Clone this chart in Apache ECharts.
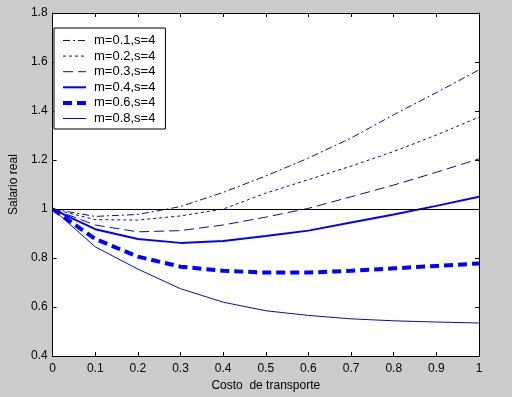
<!DOCTYPE html>
<html>
<head>
<meta charset="utf-8">
<script src="https://cdn.jsdelivr.net/npm/echarts@6/dist/echarts.min.js"></script>
<style>
  html, body { margin: 0; padding: 0; background: #cccccc; }
  #chart { width: 512px; height: 397px; }
</style>
</head>
<body>
<div id="chart"></div>
<script>
// Costo de transporte (x) and the salario real curves
const costo = [0, 0.1, 0.2, 0.3, 0.4, 0.5, 0.6, 0.7, 0.8, 0.9, 1];
const m01 = [1, 0.970, 0.978, 1.010, 1.068, 1.135, 1.208, 1.290, 1.385, 1.475, 1.568];
const m02 = [1, 0.957, 0.955, 0.972, 1.000, 1.065, 1.120, 1.175, 1.235, 1.302, 1.375];
const m03 = [1, 0.935, 0.907, 0.912, 0.935, 0.967, 1.003, 1.050, 1.098, 1.150, 1.205];
const m04 = [1, 0.918, 0.878, 0.862, 0.870, 0.890, 0.912, 0.945, 0.978, 1.013, 1.050];
const m06 = [1, 0.878, 0.806, 0.765, 0.748, 0.741, 0.741, 0.748, 0.758, 0.768, 0.778];
const m08 = [1, 0.846, 0.755, 0.675, 0.620, 0.585, 0.566, 0.552, 0.544, 0.539, 0.535];
const seriesNames = ["m=0.1,s=4", "m=0.2,s=4", "m=0.3,s=4", "m=0.4,s=4", "m=0.6,s=4", "m=0.8,s=4"];
const refValue = 1;

const xTicks = ["0", "0.1", "0.2", "0.3", "0.4", "0.5", "0.6", "0.7", "0.8", "0.9", "1"];
const yTicks = ["0.4", "0.6", "0.8", "1", "1.2", "1.4", "1.6", "1.8"];

const chart = echarts.init(document.getElementById("chart"));

const pair = (ys) => costo.map((x, i) => [x, ys[i]]);
const thin = "#0c0ca6";
const thick = "#0000ff";

const styles = [
  { width: 1, type: [7, 3, 2, 3], color: thin },
  { width: 1, type: [3, 3], color: thin },
  { width: 1, type: [10, 5], color: thin },
  { width: 2, type: "solid", color: thick },
  { width: 4, type: [9, 5], color: thick },
  { width: 1, type: "solid", color: thin },
];

const fontFam = "Liberation Sans, Arial, sans-serif";

const baseAxis = {
  axisLine: { show: true, onZero: false, lineStyle: { color: "#000", width: 1 } },
  axisTick: { show: true, inside: true, length: 4, lineStyle: { color: "#000" } },
  splitLine: { show: false },
};

const option = {
  backgroundColor: "#cccccc",
  animation: false,
  grid: { left: 41, right: 33, top: 13, bottom: 40, show: true, backgroundColor: "#ffffff", borderWidth: 0 },
  legend: {
    orient: "vertical",
    left: 54,
    top: 28,
    padding: [6, 10, 4, 7],
    itemWidth: 23,
    itemHeight: 14,
    itemGap: 2.6,
    backgroundColor: "#ffffff",
    borderColor: "#000",
    borderWidth: 1,
    borderRadius: 0,
    itemStyle: { color: "rgba(0,0,0,0)", borderWidth: 0 },
    textStyle: { color: "#000", fontSize: 13, fontFamily: fontFam, padding: [0, 0, 0, 3] },
    data: seriesNames.map((n, i) => ({
      name: n,
      itemStyle: { color: "rgba(0,0,0,0)", borderWidth: 0 },
      lineStyle: { width: styles[i].width, type: styles[i].type, color: styles[i].color },
    })),
  },
  xAxis: [
    {
      ...baseAxis,
      type: "value",
      min: 0,
      max: 1,
      interval: 0.1,
      name: "Costo  de transporte",
      nameLocation: "middle",
      nameGap: 22,
      nameTextStyle: { color: "#000", fontSize: 12, fontFamily: fontFam },
      axisLabel: {
        color: "#000",
        fontSize: 12,
        fontFamily: fontFam,
        margin: 7,
        formatter: (v) => xTicks[Math.round(v * 10)],
      },
    },
    {
      ...baseAxis,
      type: "value",
      position: "top",
      min: 0,
      max: 1,
      interval: 0.1,
      axisLabel: { show: false },
    },
  ],
  yAxis: [
    {
      ...baseAxis,
      type: "value",
      min: 0.4,
      max: 1.8,
      interval: 0.2,
      name: "Salario real",
      nameLocation: "middle",
      nameGap: 31,
      nameTextStyle: { color: "#000", fontSize: 12, fontFamily: fontFam },
      axisLabel: {
        color: "#000",
        fontSize: 12,
        fontFamily: fontFam,
        margin: 5,
        formatter: (v) => yTicks[Math.round((v - 0.4) / 0.2)],
      },
    },
    {
      ...baseAxis,
      type: "value",
      position: "right",
      min: 0.4,
      max: 1.8,
      interval: 0.2,
      axisLabel: { show: false },
    },
  ],
  series: [m01, m02, m03, m04, m06, m08].map((ys, i) => ({
    name: seriesNames[i],
    type: "line",
    data: pair(ys),
    showSymbol: false,
    symbol: "none",
    smooth: false,
    lineStyle: styles[i],
    itemStyle: { color: styles[i].color },
    z: 3,
    markLine: i === 0 ? {
      silent: true,
      symbol: "none",
      label: { show: false },
      lineStyle: { color: "#000", width: 1, type: "solid" },
      data: [{ yAxis: refValue }],
    } : undefined,
  })),
};

chart.setOption(option);
</script>
</body>
</html>
